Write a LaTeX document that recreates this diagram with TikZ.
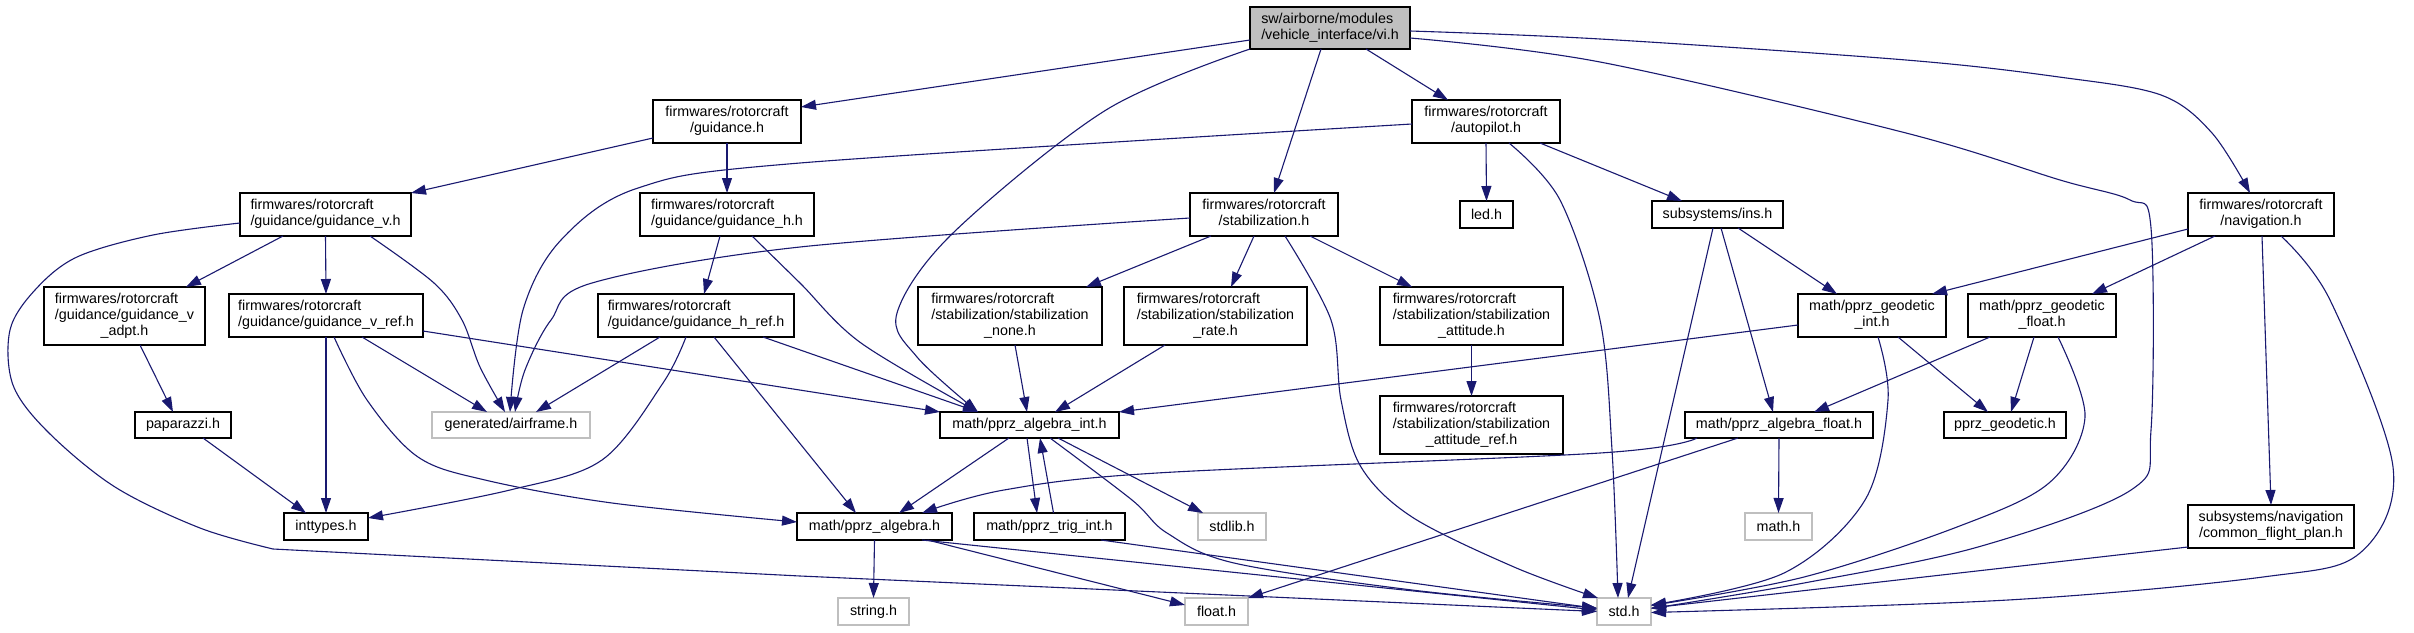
\documentclass[tikz,border=0pt]{standalone}
\usepackage{fontspec}
\setmainfont{Liberation Sans}
\usetikzlibrary{arrows.meta}
\definecolor{edgecol}{HTML}{191970}
\definecolor{graycol}{HTML}{BFBFBF}
\newcommand{\lbl}[2]{\begin{tabular}{@{}l@{}}#1\\\multicolumn{1}{@{}c@{}}{#2}\end{tabular}}
\begin{document}
\begin{tikzpicture}[x=1pt,y=-1pt,
  box/.style={draw=black, line width=1.3pt, fill=white, inner sep=0pt, outer sep=0pt, align=center, font=\fontsize{14.3}{16}\selectfont},
  gbox/.style={box, draw=graycol},
  edge/.style={draw=edgecol, line width=1.1pt, -{Triangle[length=15pt,width=10pt]}},
  sm/.style={smooth, tension=0.55}
]
\useasboundingbox[fill=white] (0,0) rectangle (2414,632);

% nodes
\node[box, fill=graycol, minimum width=160pt, minimum height=42pt] (vi) at (1330,28) {\lbl{sw/airborne/modules}{/vehicle\_interface/vi.h}};
\node[box, minimum width=148pt, minimum height=43pt] (guid) at (727,121.5) {\lbl{firmwares/rotorcraft}{/guidance.h}};
\node[box, minimum width=171pt, minimum height=43pt] (guidv) at (325.5,214.5) {\lbl{firmwares/rotorcraft}{/guidance/guidance\_v.h}};
\node[box, minimum width=174pt, minimum height=43pt] (guidh) at (727,214.5) {\lbl{firmwares/rotorcraft}{/guidance/guidance\_h.h}};
\node[box, minimum width=161pt, minimum height=58pt] (adpt) at (124.5,316) {\lbl{firmwares/rotorcraft\\/guidance/guidance\_v}{\_adpt.h}};
\node[box, minimum width=194pt, minimum height=43pt] (vref) at (326,315.5) {\lbl{firmwares/rotorcraft}{/guidance/guidance\_v\_ref.h}};
\node[box, minimum width=196pt, minimum height=43pt] (href) at (696,315.5) {\lbl{firmwares/rotorcraft}{/guidance/guidance\_h\_ref.h}};
\node[box, minimum width=96pt, minimum height=26pt] (papa) at (183,425) {paparazzi.h};
\node[gbox, minimum width=158pt, minimum height=26pt] (airframe) at (511,425) {generated/airframe.h};
\node[box, minimum width=84pt, minimum height=27pt] (inttypes) at (326,526.5) {inttypes.h};
\node[box, minimum width=148pt, minimum height=43pt] (auto) at (1486,121.5) {\lbl{firmwares/rotorcraft}{/autopilot.h}};
\node[box, minimum width=148pt, minimum height=43pt] (stab) at (1264,214.5) {\lbl{firmwares/rotorcraft}{/stabilization.h}};
\node[box, minimum width=53pt, minimum height=27pt] (led) at (1486.5,214.5) {led.h};
\node[box, minimum width=184pt, minimum height=58pt] (snone) at (1010,316) {\lbl{firmwares/rotorcraft\\/stabilization/stabilization}{\_none.h}};
\node[box, minimum width=183pt, minimum height=58pt] (srate) at (1215.5,316) {\lbl{firmwares/rotorcraft\\/stabilization/stabilization}{\_rate.h}};
\node[box, minimum width=183pt, minimum height=58pt] (satt) at (1471.5,316) {\lbl{firmwares/rotorcraft\\/stabilization/stabilization}{\_attitude.h}};
\node[box, minimum width=131pt, minimum height=27pt] (ins) at (1717.5,214.5) {subsystems/ins.h};
\node[box, minimum width=146pt, minimum height=43pt] (nav) at (2261,214.5) {\lbl{firmwares/rotorcraft}{/navigation.h}};
\node[box, minimum width=148pt, minimum height=43pt] (gint) at (1872,315.5) {\lbl{math/pprz\_geodetic}{\_int.h}};
\node[box, minimum width=148pt, minimum height=43pt] (gfloat) at (2042,315.5) {\lbl{math/pprz\_geodetic}{\_float.h}};
\node[box, minimum width=179pt, minimum height=26pt] (aint) at (1029.5,425) {math/pprz\_algebra\_int.h};
\node[box, minimum width=183pt, minimum height=58pt] (sattref) at (1471.5,425) {\lbl{firmwares/rotorcraft\\/stabilization/stabilization}{\_attitude\_ref.h}};
\node[box, minimum width=155pt, minimum height=27pt] (alg) at (874.5,526.5) {math/pprz\_algebra.h};
\node[box, minimum width=151pt, minimum height=27pt] (trig) at (1049.5,526.5) {math/pprz\_trig\_int.h};
\node[gbox, minimum width=68pt, minimum height=27pt] (stdlib) at (1232,526.5) {stdlib.h};
\node[gbox, minimum width=71pt, minimum height=27pt] (string) at (873.5,611.5) {string.h};
\node[gbox, minimum width=63pt, minimum height=27pt] (float) at (1216.5,611.5) {float.h};
\node[gbox, minimum width=54pt, minimum height=27pt] (std) at (1624,611.5) {std.h};
\node[box, minimum width=188pt, minimum height=26pt] (afloat) at (1779,425) {math/pprz\_algebra\_float.h};
\node[box, minimum width=122pt, minimum height=26pt] (geod) at (2005,425) {pprz\_geodetic.h};
\node[gbox, minimum width=67pt, minimum height=27pt] (math) at (1778.5,526.5) {math.h};
\node[box, minimum width=166pt, minimum height=43pt] (cfp) at (2271,526.5) {\lbl{subsystems/navigation}{/common\_flight\_plan.h}};

% edges from vi.h
\draw[edge] ([yshift=-12pt]vi.west) -- ([yshift=-7pt]guid.north east);
\draw[edge] plot[sm] coordinates {(vi.south west) (1106,110) (953,233) (897,313) (917,357) ([xshift=38pt]aint.north west)};
\draw[edge] ([xshift=-9pt]vi.south) -- ([xshift=10pt]stab.north);
\draw[edge] ([xshift=36pt]vi.south) -- ([xshift=-38pt]auto.north);
\draw[edge] plot[sm] coordinates {([yshift=-10pt]vi.east) (1600,62) (1906,133) (2060,180) (2130,200) (2151,228) (2151,430) (2131,490) (1978,547) (1804,583) ([yshift=3pt]std.east)};
\draw[edge] plot[sm] coordinates {([yshift=-3pt]vi.east) (1600,39) (1906,60) (2059,77) (2161,95) (2212,133) ([xshift=-11pt]nav.north)};

% guidance
\draw[edge] ([yshift=-16.5pt]guid.west) -- (guidv.north east);
\draw[edge] (guid.south) -- (guidh.north);
\draw[edge] plot[sm] coordinates {([yshift=-8.5pt]guidv.west) (153,235) (77,257) (35,290) (10,330) (13,385) (48,432) (115,487) (200,528) (273,549)} -- (800,576) -- (std.west);
\draw[edge] ([xshift=-42.5pt]guidv.south) -- ([xshift=61.5pt]adpt.north);
\draw[edge] (guidv.south) -- (vref.north);
\draw[edge] plot[sm] coordinates {([xshift=44.5pt]guidv.south) (434,283) (462,320) (480,367) ([xshift=-6pt]airframe.north)};
\draw[edge] ([xshift=-7pt]guidh.south) -- ([xshift=8pt]href.north);
\draw[edge] plot[sm] coordinates {([xshift=25pt]guidh.south) (800,283) (861,343) ([xshift=38pt]aint.north west)};

% autopilot
\draw[edge] plot[sm] coordinates {([yshift=-2.5pt]auto.west) (800,163) (638,188) (561,240) (523,310) ([xshift=-1pt]airframe.north)};
\draw[edge] (auto.south) -- (led.north);
\draw[edge] ([xshift=54pt]auto.south) -- ([xshift=-35.5pt]ins.north);
\draw[edge] plot[sm] coordinates {([xshift=23pt]auto.south) (1560,200) (1600,320) (1612,450) ([xshift=-6pt]std.north)};

% stabilization
\draw[edge] plot[sm] coordinates {([yshift=-3.5pt]stab.west) (800,247) (592,283) (551,320) (525,370) ([xshift=4pt]airframe.north)};
\draw[edge] ([xshift=-53pt]stab.south) -- ([xshift=76pt]snone.north);
\draw[edge] ([xshift=-10pt]stab.south) -- ([xshift=15.5pt]srate.north);
\draw[edge] ([xshift=46pt]stab.south) -- ([xshift=-59.5pt]satt.north);
\draw[edge] plot[sm] coordinates {([xshift=21pt]stab.south) (1331,320) (1341,400) (1361,467) (1412,517) (1514,567) ([xshift=1pt]std.north west)};

% ins
\draw[edge] ([xshift=20.5pt]ins.south) -- ([xshift=-35pt]gint.north);
\draw[edge] ([xshift=3.5pt]ins.south) -- ([xshift=-6pt]afloat.north);
\draw[edge] ([xshift=-4.5pt]ins.south) -- ([xshift=4pt]std.north);

% navigation
\draw[edge] ([yshift=-14.5pt]nav.west) -- ([xshift=60pt]gint.north);
\draw[edge] ([xshift=-46pt]nav.south) -- ([xshift=50pt]gfloat.north);
\draw[edge] ([xshift=1pt]nav.south) -- (cfp.north);
\draw[edge] plot[sm] coordinates {([xshift=20pt]nav.south) (2330,300) (2393,467) (2360,553) (2263,577) (2008,600) ([yshift=-1pt]std.east)};

% geodetic
\draw[edge] ([yshift=-9.5pt]gint.west) -- (aint.north east);
\draw[edge] ([xshift=26pt]gint.south) -- ([xshift=-17pt]geod.north);
\draw[edge] plot[sm] coordinates {([xshift=6pt]gint.south) (1888,400) (1865,500) (1784,573) ([yshift=6.5pt]std.east)};
\draw[edge] ([xshift=-52pt]gfloat.south) -- ([xshift=35pt]afloat.north);
\draw[edge] ([xshift=-8pt]gfloat.south) -- ([xshift=6pt]geod.north);
\draw[edge] plot[sm] coordinates {([xshift=16pt]gfloat.south) (2085,417) (2049,483) (1957,527) (1804,577) ([yshift=6pt]std.east)};

% algebra float
\draw[edge] (afloat.south) -- (math.north);
\draw[edge] plot[sm] coordinates {([xshift=-82pt]afloat.south) (1600,453) (1157,473) (1004,490) ([xshift=47.5pt]alg.north)};
\draw[edge] ([xshift=-41pt]afloat.south) -- (float.north east);
\draw[edge] ([yshift=-20.5pt]cfp.west) -- ([yshift=3.5pt]std.east);

% guidance refs
\draw[edge] ([xshift=15.5pt]adpt.south) -- ([xshift=-10pt]papa.north);
\draw[edge] ([xshift=20pt]papa.south) -- ([xshift=-20pt]inttypes.north);
\draw[edge] (vref.south) -- (inttypes.north);
\draw[edge] plot[sm] coordinates {([xshift=8pt]vref.south) (367,400) (418,457) (485,480) (612,503) ([yshift=4.5pt]alg.west)};
\draw[edge] ([xshift=36pt]vref.south) -- ([xshift=-24pt]airframe.north);
\draw[edge] ([yshift=-15.5pt]vref.east) -- (aint.north west);
\draw[edge] ([xshift=-36pt]href.south) -- ([xshift=25pt]airframe.north);
\draw[edge] plot[sm] coordinates {([xshift=-10pt]href.south) (663,383) (602,460) (510,490) ([yshift=8.5pt]inttypes.east)};
\draw[edge] ([xshift=18pt]href.south) -- ([xshift=-18.5pt]alg.north);
\draw[edge] ([xshift=-31pt]href.south east) -- ([xshift=38pt]aint.north west);

% stabilization subs
\draw[edge] ([xshift=5pt]snone.south) -- ([xshift=-2.5pt]aint.north);
\draw[edge] ([xshift=-50.5pt]srate.south) -- ([xshift=25.5pt]aint.north);
\draw[edge] (satt.south) -- (sattref.north);

% algebra int
\draw[edge] ([xshift=-20.5pt]aint.south) -- ([xshift=24.5pt]alg.north);
\draw[edge] ([xshift=-2.5pt]aint.south) -- ([xshift=-12.5pt]trig.north);
\draw[edge] ([xshift=4pt]trig.north) -- ([xshift=10.5pt]aint.south);
\draw[edge] ([xshift=28.5pt]aint.south) -- ([xshift=-29pt]stdlib.north);
\draw[edge] plot[sm] coordinates {([xshift=20.5pt]aint.south) (1132,500) (1167,533) (1234,563) (1412,590) ([yshift=3.5pt]std.west)};
\draw[edge] ([xshift=51.5pt]trig.south) -- ([yshift=3pt]std.west);
\draw[edge] (alg.south) -- (string.north);
\draw[edge] ([xshift=53pt]alg.south) -- ([yshift=6.5pt]float.west);
\draw[edge] ([xshift=47.5pt]alg.south) -- ([yshift=1.5pt]std.west);
\end{tikzpicture}
\end{document}
